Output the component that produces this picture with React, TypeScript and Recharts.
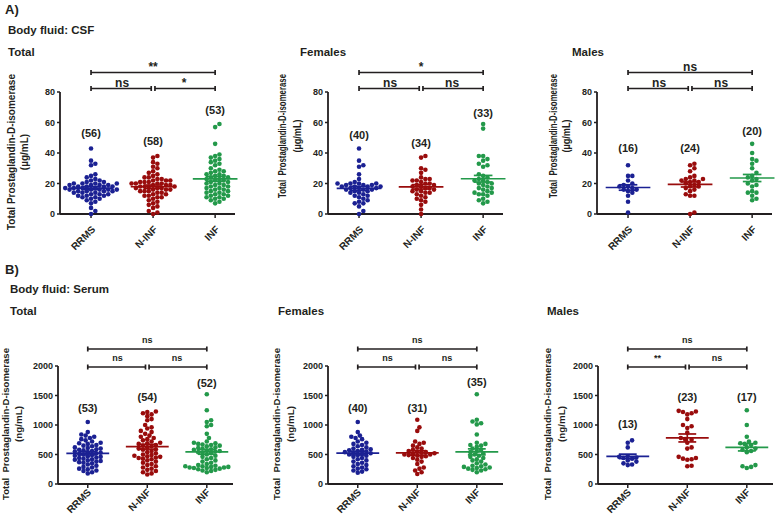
import React from "react"
import { ScatterChart, Scatter, XAxis, YAxis, ReferenceLine, ReferenceDot } from "recharts"

const FONT = '"Liberation Sans", Arial, Helvetica, sans-serif'
const INK = "#231f20"
const colors = ["#1b2193", "#990c0c", "#23994a"]
const groups = ["RRMS", "N-INF", "INF"]

// CSF (µg/mL)
const csfTotalRRMS = [43, 35, 33, 32, 26, 25, 24, 23, 22, 22, 21, 21, 20, 20, 20, 20, 19, 19, 19, 19, 18, 18, 18, 18, 17, 17, 17, 17, 16, 16, 16, 16, 16, 15, 15, 15, 15, 14, 14, 14, 13, 13, 13, 12, 12, 12, 11, 11, 10, 10, 9, 8, 7, 4, 2, 0]
const csfTotalNINF = [38, 37, 34, 33, 31, 30, 28, 27, 26, 25, 24, 24, 23, 23, 22, 22, 22, 21, 21, 21, 20, 20, 20, 20, 19, 19, 19, 18, 18, 18, 18, 17, 17, 17, 16, 16, 16, 15, 15, 15, 14, 14, 13, 13, 12, 12, 11, 11, 10, 9, 8, 7, 6, 5, 4, 2, 1, 0]
const csfTotalINF = [59, 57, 46, 39, 38, 37, 36, 35, 34, 33, 32, 30, 29, 28, 28, 27, 26, 26, 25, 25, 24, 24, 23, 23, 22, 22, 21, 21, 20, 20, 19, 19, 18, 18, 17, 17, 16, 16, 15, 15, 14, 14, 13, 13, 12, 12, 11, 11, 10, 10, 9, 8, 7]
const csfFemRRMS = [43, 35, 32, 31, 26, 23, 21, 20, 20, 20, 20, 19, 19, 19, 18, 18, 18, 18, 17, 17, 17, 16, 16, 16, 15, 15, 14, 14, 13, 12, 12, 11, 10, 9, 8, 7, 7, 5, 2, 0]
const csfFemNINF = [38, 37, 30, 29, 27, 24, 23, 23, 22, 22, 21, 20, 20, 19, 19, 18, 18, 17, 17, 16, 16, 15, 15, 14, 14, 13, 12, 11, 10, 9, 8, 6, 3, 0]
const csfFemINF = [59, 56, 38, 38, 36, 35, 33, 32, 31, 26, 25, 24, 23, 22, 22, 21, 20, 20, 19, 18, 17, 17, 16, 15, 14, 14, 13, 13, 12, 10, 9, 8, 7]
const csfMaleRRMS = [32, 25, 25, 22, 20, 19, 18, 18, 17, 16, 16, 15, 14, 12, 8, 1]
const csfMaleNINF = [33, 32, 30, 28, 25, 24, 23, 23, 22, 22, 21, 21, 20, 19, 18, 18, 17, 16, 15, 13, 12, 12, 1, 0]
const csfMaleINF = [46, 40, 36, 35, 33, 30, 27, 25, 24, 23, 22, 20, 19, 18, 15, 14, 14, 12, 10, 9]

// Serum (ng/mL)
const serumTotalRRMS = [1050, 880, 840, 820, 800, 780, 760, 740, 720, 700, 690, 680, 660, 650, 640, 620, 610, 600, 590, 580, 570, 560, 550, 540, 530, 520, 510, 500, 490, 480, 470, 460, 450, 440, 430, 420, 410, 400, 390, 380, 370, 360, 350, 330, 310, 290, 280, 260, 250, 230, 220, 200, 180]
const serumTotalNINF = [1230, 1220, 1200, 1180, 1150, 1100, 1080, 1000, 960, 940, 900, 880, 850, 820, 800, 780, 760, 740, 720, 700, 690, 680, 660, 650, 640, 620, 600, 590, 580, 560, 540, 520, 500, 490, 480, 470, 460, 450, 440, 430, 420, 400, 380, 360, 340, 320, 300, 280, 260, 240, 220, 200, 180, 160]
const serumTotalINF = [1520, 1250, 1080, 1050, 1000, 980, 850, 780, 720, 700, 690, 680, 670, 660, 650, 640, 620, 610, 600, 590, 580, 570, 560, 550, 540, 530, 520, 500, 480, 460, 440, 420, 400, 380, 360, 340, 320, 310, 300, 300, 290, 290, 280, 280, 270, 270, 260, 250, 240, 230, 220, 200]
const serumFemRRMS = [1050, 880, 820, 800, 780, 760, 720, 700, 680, 660, 640, 620, 600, 590, 580, 570, 560, 550, 540, 530, 520, 510, 500, 490, 480, 460, 440, 420, 400, 380, 360, 340, 320, 300, 280, 260, 250, 230, 210, 190]
const serumFemNINF = [1090, 960, 900, 720, 700, 680, 650, 620, 600, 580, 560, 550, 540, 530, 520, 510, 500, 500, 490, 480, 470, 460, 440, 410, 380, 340, 280, 260, 230, 200, 170]
const serumFemINF = [1520, 1090, 1060, 1030, 1010, 840, 700, 680, 660, 650, 630, 600, 580, 560, 540, 520, 500, 480, 460, 440, 420, 400, 380, 350, 330, 310, 300, 290, 280, 270, 260, 250, 240, 230, 200]
const serumMaleRRMS = [740, 700, 620, 470, 460, 450, 440, 430, 400, 380, 350, 330, 320]
const serumMaleNINF = [1240, 1230, 1220, 1200, 1180, 1100, 1000, 980, 950, 870, 780, 760, 750, 700, 620, 600, 460, 440, 430, 420, 410, 310, 300]
const serumMaleINF = [1250, 1000, 800, 720, 700, 690, 680, 660, 620, 600, 580, 560, 540, 320, 300, 290, 270]

const csfTicks = [0, 20, 40, 60, 80]
const serumTicks = [0, 500, 1000, 1500, 2000]

// RRMS vs N-INF, N-INF vs INF, RRMS vs INF
const csfTotalSig = ["ns", "*", "**"]
const csfFemSig = ["ns", "ns", "*"]
const csfMaleSig = ["ns", "ns", "ns"]
const serumTotalSig = ["ns", "ns", "ns"]
const serumFemSig = ["ns", "ns", "ns"]
const serumMaleSig = ["**", "ns", "ns"]

const rows: any = {
  csf: { top: 92, plotH: 122, ymax: 80, ticks: csfTicks, domainMax: 3.32, lowerGap: 3.5, upperGap: 19.5, sigFont: 12, sigGap: 2, tickDx: 5, tickDy: 10 },
  serum: { top: 366, plotH: 118, ymax: 2000, ticks: serumTicks, domainMax: 3.44, lowerGap: -1, upperGap: 17, sigFont: 9, sigGap: 6, tickDx: 4, tickDy: 3 },
}

const panels = [
  { row: "csf", axisX: 60, series: [csfTotalRRMS, csfTotalNINF, csfTotalINF], sig: csfTotalSig, countY: [50.5, 45.2, 65.6] },
  { row: "csf", axisX: 328, series: [csfFemRRMS, csfFemNINF, csfFemINF], sig: csfFemSig, countY: [49.2, 43.9, 63.6] },
  { row: "csf", axisX: 597, series: [csfMaleRRMS, csfMaleNINF, csfMaleINF], sig: csfMaleSig, countY: [40.7, 40.7, 51.8] },
  { row: "serum", axisX: 58, series: [serumTotalRRMS, serumTotalNINF, serumTotalINF], sig: serumTotalSig, countY: [1220, 1407, 1644] },
  { row: "serum", axisX: 328, series: [serumFemRRMS, serumFemNINF, serumFemINF], sig: serumFemSig, countY: [1220, 1220, 1661] },
  { row: "serum", axisX: 598, series: [serumMaleRRMS, serumMaleNINF, serumMaleINF], sig: serumMaleSig, countY: [949, 1407, 1407] },
]

const PLOT_W = 175
const DOT_R = 2.3

// simple beeswarm: spread equal-ish values sideways so dots don't overlap
function swarm(values: number[], pxPerY: number, pxPerX: number) {
  const d = 4.3
  const order = values.map((_, i) => i).sort((a, b) => values[a] - values[b])
  const placed: { x: number; y: number }[] = []
  const out = new Array(values.length).fill(0)
  for (const i of order) {
    const y = values[i] * pxPerY
    let chosen = 0
    for (let k = 0; k < 60; k++) {
      const step = Math.ceil(k / 2) * (k % 2 === 1 ? 1 : -1) * d * 0.5
      if (placed.every(p => (p.x - step) ** 2 + (p.y - y) ** 2 >= d * d * 0.82)) {
        chosen = step
        break
      }
    }
    placed.push({ x: chosen, y })
    out[i] = chosen / pxPerX
  }
  return out
}

const mean = (v: number[]) => v.reduce((a, b) => a + b, 0) / v.length
const sem = (v: number[]) => {
  const m = mean(v)
  const sd = Math.sqrt(v.reduce((a, b) => a + (b - m) ** 2, 0) / (v.length - 1))
  return sd / Math.sqrt(v.length)
}

const textShape = (value: string, size: number) => (p: any) => (
  <text x={p.cx} y={p.cy} textAnchor="middle" fontSize={size} fontWeight={700} fill={INK} fontFamily={FONT}>
    {value}
  </text>
)

function Panel({ cfg }: any) {
  const row = rows[cfg.row]
  const { top, plotH, ymax, ticks, domainMax } = row
  const H = 40 + plotH + 45
  const pxPerY = plotH / ymax
  const pxPerX = PLOT_W / (domainMax - 0.5)
  const vpp = ymax / plotH
  const lowY = ymax + row.lowerGap * vpp
  const upY = ymax + row.upperGap * vpp
  const cap = 2.5 * vpp

  const segs: any[] = []
  cfg.series.forEach((vals: number[], g: number) => {
    const cx = g + 1
    const m = mean(vals)
    const s = sem(vals)
    const c = colors[g]
    segs.push({ x1: cx - 0.36, y1: m, x2: cx + 0.36, y2: m, c })
    segs.push({ x1: cx - 0.15, y1: m + s, x2: cx + 0.15, y2: m + s, c })
    segs.push({ x1: cx - 0.15, y1: m - s, x2: cx + 0.15, y2: m - s, c })
    segs.push({ x1: cx, y1: m - s, x2: cx, y2: m + s, c })
  })
  const br = (x1: number, x2: number, y: number) => {
    segs.push({ x1, y1: y, x2, y2: y, c: INK })
    segs.push({ x1, y1: y - cap, x2: x1, y2: y + cap, c: INK })
    segs.push({ x1: x2, y1: y - cap, x2, y2: y + cap, c: INK })
  }
  br(1, 1.97, lowY)
  br(2.03, 3, lowY)
  br(1, 3, upY)

  const sigY = (y: number) => y + row.sigGap * vpp
  const XTick = (props: any) => {
    const ax = props.x + row.tickDx
    const ay = props.y + row.tickDy
    return (
      <text x={ax} y={ay} transform={`rotate(-45 ${ax} ${ay})`} textAnchor="end" fontSize={10} fontWeight={700} fill={INK} fontFamily={FONT}>
        {groups[props.payload.value - 1]}
      </text>
    )
  }

  return (
    <div style={{ position: "absolute", left: cfg.axisX - 50, top: top - 40 }}>
      <ScatterChart width={50 + PLOT_W + 10} height={H} margin={{ top: 40, right: 10, bottom: 0, left: 0 }} style={{ fontFamily: FONT }}>
        <XAxis type="number" dataKey="x" domain={[0.5, domainMax]} ticks={[1, 2, 3]} interval={0} tick={<XTick />} tickSize={4}
          height={45} axisLine={{ stroke: INK, strokeWidth: 1.8 }} tickLine={{ stroke: INK, strokeWidth: 1.5 }} allowDataOverflow />
        <YAxis type="number" dataKey="y" domain={[0, ymax]} ticks={ticks} interval={0} width={50} tickSize={3} tickMargin={2}
          tick={{ fontSize: 9, fontWeight: 700, fill: INK, fontFamily: FONT }}
          axisLine={{ stroke: INK, strokeWidth: 1.8 }} tickLine={{ stroke: INK, strokeWidth: 1.5 }} />
        {cfg.series.map((vals: number[], g: number) => {
          const offs = swarm(vals, pxPerY, pxPerX)
          const pts = vals.map((v, i) => ({ x: g + 1 + offs[i], y: v }))
          return (
            <Scatter key={groups[g]} name={groups[g]} data={pts} fill={colors[g]} isAnimationActive={false}
              shape={(p: any) => <circle cx={p.cx} cy={p.cy} r={DOT_R} fill={colors[g]} />} />
          )
        })}
        {segs.map((s, i) => (
          <ReferenceLine key={"s" + i} segment={[{ x: s.x1, y: s.y1 }, { x: s.x2, y: s.y2 }]} stroke={s.c} strokeWidth={1.7} ifOverflow="visible" />
        ))}
        {cfg.series.map((vals: number[], g: number) => (
          <ReferenceDot key={"n" + g} x={g + 1} y={cfg.countY[g]} r={0} ifOverflow="visible" shape={textShape(`(${vals.length})`, 11)} />
        ))}
        <ReferenceDot x={1.5} y={sigY(lowY)} r={0} ifOverflow="visible" shape={textShape(cfg.sig[0], row.sigFont)} />
        <ReferenceDot x={2.5} y={sigY(lowY)} r={0} ifOverflow="visible" shape={textShape(cfg.sig[1], row.sigFont)} />
        <ReferenceDot x={2} y={sigY(upY)} r={0} ifOverflow="visible" shape={textShape(cfg.sig[2], row.sigFont)} />
      </ScatterChart>
    </div>
  )
}

const yLabels = [
  { x1: 11, x2: 24, cy: 152, fs: 10, len: 156, ulen: 0, t: "Total Prostaglandin-D-isomerase", u: "(µg/mL)" },
  { x1: 282, x2: 297, cy: 136, fs: 10, len: 124, ulen: 33, t: "Total  Prostaglandin-D-isomerase", u: "(µg/mL)" },
  { x1: 553, x2: 566, cy: 136, fs: 10, len: 124, ulen: 33, t: "Total  Prostaglandin-D-isomerase", u: "(µg/mL)" },
  { x1: 5, x2: 18, cy: 424, fs: 9.8, len: 152, ulen: 0, t: "Total  Prostaglandin-D-isomerase", u: "(ng/mL)" },
  { x1: 276, x2: 290, cy: 424, fs: 9.8, len: 152, ulen: 0, t: "Total  Prostaglandin-D-isomerase", u: "(ng/mL)" },
  { x1: 547, x2: 561, cy: 424, fs: 9.8, len: 152, ulen: 0, t: "Total  Prostaglandin-D-isomerase", u: "(ng/mL)" },
]

const titles = [
  { x: 5, y: 14, s: 13, t: "A)" },
  { x: 8, y: 34, s: 11.5, t: "Body fluid: CSF" },
  { x: 8, y: 56, s: 11.5, t: "Total" },
  { x: 300, y: 56, s: 11.5, t: "Females" },
  { x: 572, y: 56, s: 11.5, t: "Males" },
  { x: 5, y: 274, s: 13, t: "B)" },
  { x: 10, y: 293, s: 11.5, t: "Body fluid: Serum" },
  { x: 10, y: 315, s: 11.5, t: "Total" },
  { x: 278, y: 315, s: 11.5, t: "Females" },
  { x: 547, y: 315, s: 11.5, t: "Males" },
]

export default function App() {
  return (
    <div style={{ position: "absolute", left: 0, top: 0, width: 783, height: 514, background: "#fff", overflow: "hidden", fontFamily: FONT }}>
      <svg width={783} height={514} style={{ position: "absolute", left: 0, top: 0 }}>
        {titles.map((t, i) => (
          <text key={i} x={t.x} y={t.y} fontSize={t.s} fontWeight={700} fill={INK} fontFamily={FONT}>{t.t}</text>
        ))}
        {yLabels.map((l, i) => (
          <g key={i} fontWeight={700} fill={INK} fontFamily={FONT} fontSize={l.fs}>
            <text x={l.x1} y={l.cy} transform={`rotate(-90 ${l.x1} ${l.cy})`} textAnchor="middle" dominantBaseline="central"
              textLength={l.len} lengthAdjust="spacingAndGlyphs" style={{ whiteSpace: "pre" }}>{l.t}</text>
            <text x={l.x2} y={l.cy} transform={`rotate(-90 ${l.x2} ${l.cy})`} textAnchor="middle" dominantBaseline="central"
              {...(l.ulen ? { textLength: l.ulen, lengthAdjust: "spacingAndGlyphs" } : {})}>{l.u}</text>
          </g>
        ))}
      </svg>
      {panels.map((p, i) => <Panel key={i} cfg={p} />)}
    </div>
  )
}
